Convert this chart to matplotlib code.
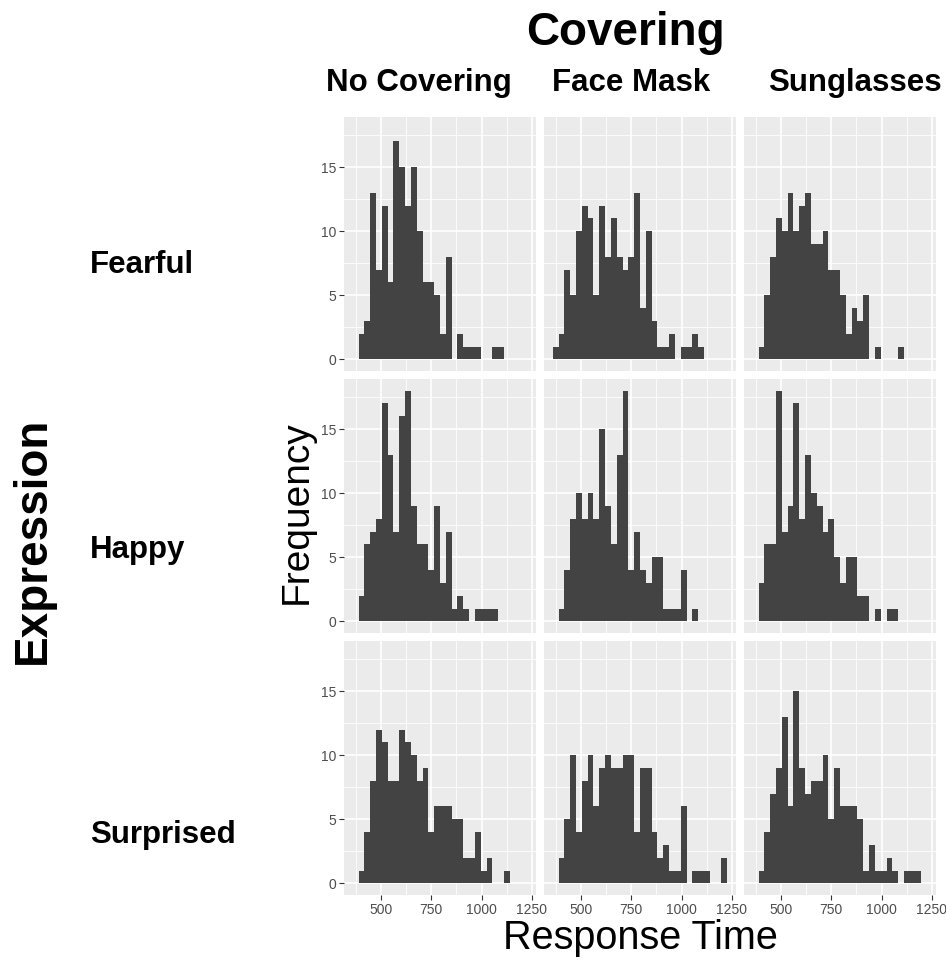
import matplotlib
matplotlib.use("Agg")
import matplotlib.pyplot as plt
import numpy as np

plt.rcParams['font.family'] = ['Liberation Sans', 'DejaVu Sans']

# histogram bins (30 bins, shared across panels)
bin_start = 358
bin_width = 29
n_bins = 30

coverings = ["No Covering", "Face Mask", "Sunglasses"]
expressions = ["Fearful", "Happy", "Surprised"]

# counts per bin
fearful_none = [0, 2, 3, 13, 7, 12, 6, 17, 15, 12, 15, 10, 6, 6, 5, 2, 8, 0, 2, 1, 1, 1, 0, 0, 1, 1, 0, 0, 0, 0]
fearful_mask = [1, 2, 7, 5, 10, 12, 11, 5, 12, 8, 11, 8, 7, 8, 13, 4, 10, 3, 1, 1, 2, 0, 1, 1, 2, 1, 0, 0, 0, 0]
fearful_sun = [0, 1, 5, 8, 11, 10, 13, 10, 12, 13, 9, 9, 10, 7, 7, 5, 2, 4, 3, 5, 0, 1, 0, 0, 0, 1, 0, 0, 0, 0]
happy_none = [0, 2, 6, 7, 8, 17, 13, 7, 16, 18, 9, 6, 6, 4, 9, 3, 7, 1, 2, 1, 0, 1, 1, 1, 1, 0, 0, 0, 0, 0]
happy_mask = [0, 1, 4, 8, 10, 8, 10, 8, 15, 9, 6, 13, 18, 4, 7, 4, 3, 5, 5, 1, 1, 1, 4, 0, 1, 0, 0, 0, 0, 0]
happy_sun = [0, 3, 6, 6, 18, 7, 9, 17, 8, 13, 10, 9, 7, 8, 5, 3, 5, 5, 2, 2, 0, 1, 0, 1, 1, 0, 0, 0, 0, 0]
surprised_none = [0, 1, 4, 8, 12, 11, 8, 8, 12, 11, 10, 8, 9, 4, 6, 6, 6, 5, 5, 2, 2, 4, 1, 2, 0, 0, 1, 0, 0, 0]
surprised_mask = [0, 2, 5, 10, 4, 8, 10, 6, 9, 10, 9, 9, 10, 10, 4, 9, 9, 4, 2, 3, 1, 1, 6, 0, 1, 1, 1, 0, 0, 2]
surprised_sun = [0, 1, 4, 7, 9, 13, 6, 15, 9, 7, 8, 8, 10, 5, 9, 6, 6, 6, 5, 1, 3, 1, 1, 2, 1, 0, 1, 1, 1, 0]

counts = [
    [fearful_none, fearful_mask, fearful_sun],
    [happy_none, happy_mask, happy_sun],
    [surprised_none, surprised_mask, surprised_sun],
]

x_major = [500, 750, 1000, 1250]
x_minor = [375, 625, 875, 1125]
y_major = [0, 5, 10, 15]
y_minor = [2.5, 7.5, 12.5, 17.5]

W, H = 946, 960
fig = plt.figure(figsize=(W / 100, H / 100), dpi=100)

edges = bin_start + bin_width * np.arange(n_bins + 1)
span = edges[-1] - edges[0]
xlim = (edges[0] - 0.05 * span, edges[-1] + 0.05 * span)
ymax = max(max(c) for row in counts for c in row)
ylim = (-0.05 * ymax, ymax * 1.05)

col_left = [344, 544, 744]
row_top = [117, 379, 641]
pw, ph = 192, 254

for i in range(3):
    for j in range(3):
        ax = fig.add_axes([col_left[j] / W, 1 - (row_top[i] + ph) / H, pw / W, ph / H])
        ax.set_facecolor('#EBEBEB')
        ax.bar(edges[:-1], counts[i][j], width=bin_width, align='edge',
               color='#434343', linewidth=0, zorder=3)
        ax.set_xlim(*xlim)
        ax.set_ylim(*ylim)
        ax.set_xticks(x_major)
        ax.set_xticks(x_minor, minor=True)
        ax.set_yticks(y_major)
        ax.set_yticks(y_minor, minor=True)
        ax.grid(True, which='major', color='white', linewidth=1.2, zorder=1)
        ax.grid(True, which='minor', color='white', linewidth=0.6, zorder=1)
        for s in ax.spines.values():
            s.set_visible(False)
        ax.tick_params(which='minor', length=0)
        ax.tick_params(which='major', color='#333333', length=3.5, width=0.8,
                       labelsize=10, labelcolor='#4D4D4D', pad=2)
        if j > 0:
            ax.tick_params(axis='y', which='major', length=0, labelleft=False)
        if i < 2:
            ax.tick_params(axis='x', which='major', length=0, labelbottom=False)


def ftext(x, y, s, **kw):
    fig.text(x / W, 1 - y / H, s, **kw)


ftext(625, 33, "Covering", fontsize=33, fontweight='bold', ha='center', va='center')
for name, xc in zip(coverings, [419, 631, 855]):
    ftext(xc, 83, name, fontsize=22.5, fontweight='bold', ha='center', va='center')
for name, yc in zip(expressions, [265, 550, 835]):
    ftext(90, yc, name, fontsize=22.5, fontweight='bold', ha='left', va='center')
ftext(33, 540, "Expression", fontsize=33, fontweight='bold', rotation=90,
      ha='center', va='center')
ftext(297, 512, "Frequency", fontsize=28, rotation=90, ha='center', va='center')
ftext(640, 938, "Response Time", fontsize=28.5, ha='center', va='center')

fig.savefig("out.png", dpi=100)
